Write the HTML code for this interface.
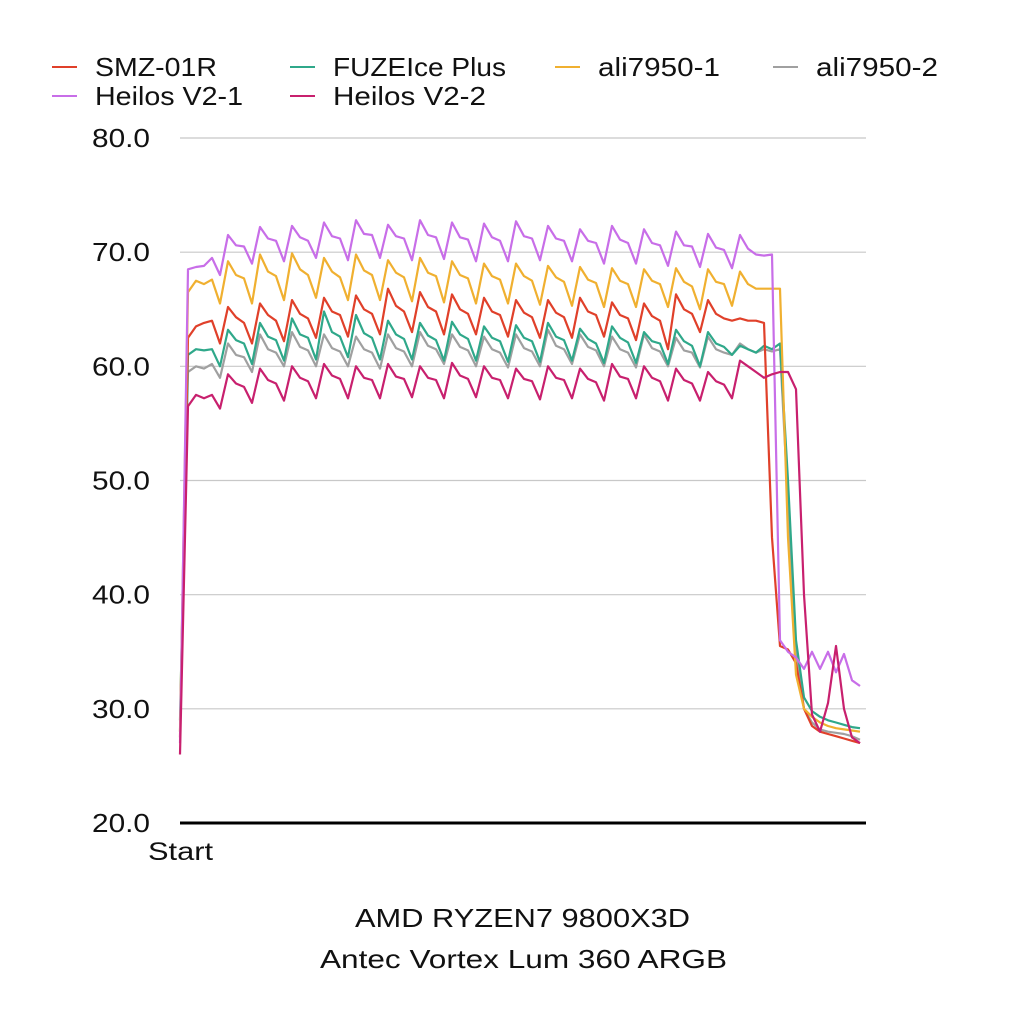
<!DOCTYPE html>
<html><head><meta charset="utf-8"><style>
body{margin:0;background:#fff;}
svg text{font-family:"Liberation Sans",sans-serif;}
</style></head><body>
<svg id="chart" width="1024" height="1024" xmlns="http://www.w3.org/2000/svg">
<g id="grid"></g>
<g id="series"></g>
<g id="legend"></g>
<line x1="180" y1="823" x2="866" y2="823" stroke="#000" stroke-width="3"/>
<text x="148" y="860" font-size="25" textLength="65" lengthAdjust="spacingAndGlyphs" fill="#111">Start</text>
<text x="355" y="927" font-size="26" textLength="335" lengthAdjust="spacingAndGlyphs" fill="#111">AMD RYZEN7 9800X3D</text>
<text x="320" y="968" font-size="26" textLength="407" lengthAdjust="spacingAndGlyphs" fill="#111">Antec Vortex Lum 360 ARGB</text>
</svg>
<script>
const yTicks=[20,30,40,50,60,70,80];
const tickLabels=["20.0","30.0","40.0","50.0","60.0","70.0","80.0"];
const seriesNames=["SMZ-01R","FUZEIce Plus","ali7950-1","ali7950-2","Heilos V2-1","Heilos V2-2"];
const seriesColors=["#e0402a","#2fa88a","#f0b030","#a0a0a0","#c86ee8","#c8206e"];
const smz=[27.5,62.5,63.5,63.8,64,62,
65.2,64.3,63.8,62.0,65.5,64.5,64.0,62.2,65.8,64.6,64.2,62.5,66.0,64.8,64.5,62.6,66.2,65.0,64.6,62.8,66.8,65.3,64.8,63.0,66.5,65.2,64.8,62.8,66.3,65.0,64.6,62.8,66.0,64.8,64.5,62.6,65.8,64.7,64.3,62.5,65.8,64.7,64.3,62.5,66.0,64.8,64.5,62.6,65.6,64.5,64.2,62.3,65.5,64.4,64.0,61.5,66.3,65.0,64.6,63.0,65.8,64.6,64.2,64.0,64.2,64.0,64.0,63.8,
45,35.5,35.2,34,30,28.5,28,27.8,27.6,27.4,27.2,27];
const fuze=[29,61,61.5,61.4,61.5,60,
63.2,62.3,62.0,60.2,63.8,62.6,62.3,60.5,64.2,62.8,62.5,60.6,64.8,63.0,62.6,60.8,64.5,62.9,62.5,60.6,64.0,62.8,62.4,60.6,63.8,62.7,62.3,60.5,63.9,62.8,62.4,60.5,63.5,62.5,62.2,60.4,63.6,62.5,62.2,60.4,63.8,62.6,62.3,60.5,63.3,62.4,62.0,60.3,63.5,62.5,62.1,60.3,63.0,62.2,62.0,60.2,63.2,62.2,61.8,60.0,63.0,62.0,61.7,61.0,61.8,61.5,61.2,61.8,
61.5,62,50,36,31,29.8,29.3,29,28.8,28.6,28.4,28.3];
const ali1=[28,66.5,67.5,67.2,67.6,65.5,
69.2,68.0,67.7,65.5,69.8,68.3,67.9,65.8,69.9,68.5,68.0,66.0,69.5,68.3,67.8,65.8,69.8,68.4,68.0,65.8,69.3,68.2,67.8,65.7,69.5,68.2,67.9,65.6,69.2,68.0,67.7,65.5,69.0,67.9,67.6,65.5,69.0,67.9,67.5,65.4,68.8,67.8,67.4,65.3,68.7,67.6,67.3,65.2,68.6,67.5,67.2,65.2,68.5,67.5,67.2,65.2,68.6,67.4,67.0,65.0,68.5,67.4,67.2,65.3,68.3,67.2,66.8,66.8,
66.8,66.8,45,33,30,29.3,28.8,28.5,28.3,28.2,28.1,28];
const ali2=[28,59.5,60,59.8,60.2,59,
62.0,61.0,60.8,59.5,62.8,61.5,61.2,60.0,63.0,61.7,61.4,60.0,62.8,61.6,61.3,60.0,62.6,61.5,61.2,59.8,62.8,61.6,61.3,60.0,63.0,61.8,61.5,60.2,62.8,61.7,61.4,60.0,62.6,61.5,61.2,59.9,62.8,61.6,61.3,60.0,63.2,61.8,61.5,60.2,62.8,61.7,61.4,60.0,62.6,61.5,61.2,59.9,62.8,61.6,61.3,60.0,62.5,61.4,61.2,59.9,62.6,61.5,61.2,61.0,62.0,61.5,61.2,61.5,
61.3,61.5,48,35,30,28.8,28.2,28,27.9,27.8,27.6,27.3];
const heilos1=[27,68.5,68.7,68.8,69.5,68,
71.5,70.6,70.5,69.0,72.2,71.2,71.0,69.2,72.3,71.3,71.0,69.5,72.6,71.4,71.2,69.3,72.8,71.6,71.5,69.5,72.4,71.4,71.2,69.3,72.8,71.5,71.3,69.4,72.6,71.3,71.1,69.2,72.5,71.3,71.0,69.2,72.7,71.4,71.2,69.3,72.3,71.2,71.0,69.2,72.0,71.0,70.8,69.0,72.3,71.1,70.8,69.0,72.0,70.8,70.6,68.8,71.8,70.6,70.5,68.7,71.6,70.4,70.2,68.6,71.5,70.3,69.8,69.7,
69.8,36,35,34.5,33.5,35,33.5,35,33.2,34.8,32.5,32];
const heilos2=[26,56.5,57.5,57.2,57.5,56.3,
59.3,58.5,58.2,56.8,59.8,58.8,58.5,57.0,60.0,59.0,58.7,57.2,60.2,59.2,58.9,57.2,60.0,59.0,58.8,57.2,60.2,59.1,58.9,57.3,60.0,59.0,58.8,57.2,60.3,59.2,58.9,57.3,60.0,59.0,58.8,57.2,59.8,58.9,58.7,57.1,60.0,59.0,58.8,57.2,59.8,58.9,58.6,57.0,60.2,59.1,58.9,57.2,60.0,59.0,58.7,57.0,59.8,58.8,58.5,57.0,59.5,58.7,58.4,57.2,60.5,60.0,59.5,59.0,
59.3,59.5,59.5,58,40,29.5,28,30.5,35.5,30,27.5,27];
const allSeries=[smz,fuze,ali1,ali2,heilos1,heilos2];
const drawOrder=[3,1,0,2,4,5];
const NS="http://www.w3.org/2000/svg";
const X0=180,X1=860,Y0=823,Y1=138,VMIN=20,VMAX=80;
function yScale(v){return Y0-(v-VMIN)/(VMAX-VMIN)*(Y0-Y1);}
function xScale(i,n){return X0+i*(X1-X0)/(n-1);}
const grid=document.getElementById('grid');
yTicks.forEach((t,k)=>{
  if(t>VMIN){
    const l=document.createElementNS(NS,'line');
    
    
    l.setAttribute('x1',180);l.setAttribute('x2',866);
    l.setAttribute('y1',yScale(t));l.setAttribute('y2',yScale(t));
    l.setAttribute('stroke','#c8c8c8');l.setAttribute('stroke-width','1.2');
    grid.appendChild(l);
  }
  const tx=document.createElementNS(NS,'text');
  
  
  tx.setAttribute('x',92);tx.setAttribute('y',yScale(t)+9);
  tx.setAttribute('font-size','26');tx.setAttribute('fill','#111');
  tx.setAttribute('textLength','58');tx.setAttribute('lengthAdjust','spacingAndGlyphs');
  tx.textContent=tickLabels[k];
  grid.appendChild(tx);
});
const sg=document.getElementById('series');
drawOrder.forEach(s=>{
  const d=allSeries[s];
  const p=document.createElementNS(NS,'polyline');
  
  
  p.setAttribute('points',d.map((v,i)=>xScale(i,d.length).toFixed(1)+','+yScale(v).toFixed(1)).join(' '));
  p.setAttribute('fill','none');p.setAttribute('stroke',seriesColors[s]);
  p.setAttribute('stroke-width','2.2');p.setAttribute('stroke-linejoin','round');
  sg.appendChild(p);
});
const lg=document.getElementById('legend');
const legPos=[[52,67],[290,67],[555,67],[773,67],[52,96],[290,96]];
const legWidths=[122,173,122,122,148,153];
seriesNames.forEach((n,s)=>{
  const g=document.createElementNS(NS,'g');
  
  
  const [x,y]=legPos[s];
  const l=document.createElementNS(NS,'line');
  
  
  l.setAttribute('x1',x);l.setAttribute('x2',x+25);l.setAttribute('y1',y);l.setAttribute('y2',y);
  l.setAttribute('stroke',seriesColors[s]);l.setAttribute('stroke-width','2');
  g.appendChild(l);
  const t=document.createElementNS(NS,'text');
  
  
  t.setAttribute('x',x+43);t.setAttribute('y',y+9);t.setAttribute('font-size','26');t.setAttribute('fill','#111');
  t.setAttribute('textLength',legWidths[s]);t.setAttribute('lengthAdjust','spacingAndGlyphs');
  t.textContent=n;
  g.appendChild(t);
  lg.appendChild(g);
});
</script>
</body></html>
